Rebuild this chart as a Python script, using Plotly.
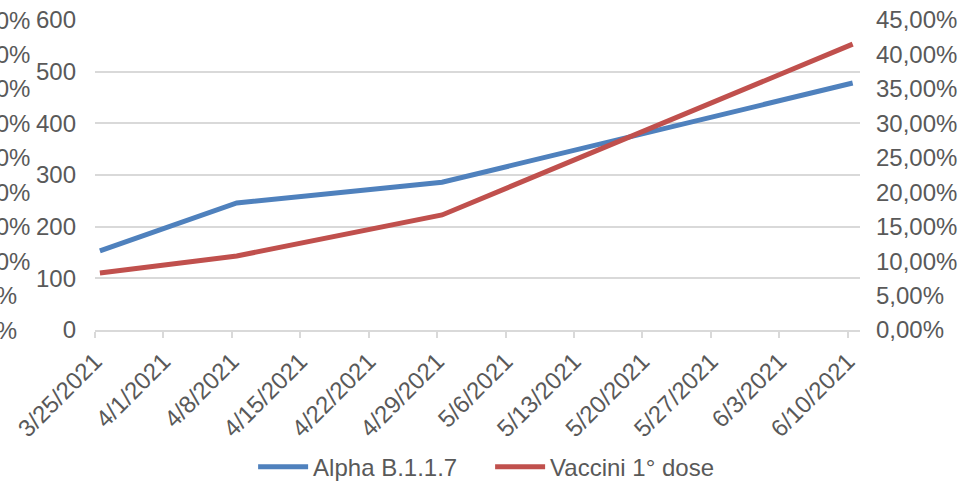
import pandas as pd
import plotly.graph_objects as go

# ---- data ----
alpha_dates = ["2021-03-25", "2021-04-08", "2021-04-29", "2021-06-10"]
alpha_values = [153, 246, 286, 478]

vacc_dates = ["2021-03-25", "2021-04-08", "2021-04-29", "2021-06-10"]
vacc_values = [0.0827, 0.1074, 0.167, 0.415]

week_dates = ["2021-03-25", "2021-04-01", "2021-04-08", "2021-04-15", "2021-04-22",
              "2021-04-29", "2021-05-06", "2021-05-13", "2021-05-20", "2021-05-27",
              "2021-06-03", "2021-06-10"]
week_labels = ["3/25/2021", "4/1/2021", "4/8/2021", "4/15/2021", "4/22/2021",
               "4/29/2021", "5/6/2021", "5/13/2021", "5/20/2021", "5/27/2021",
               "6/3/2021", "6/10/2021"]

left_ticks = [0, 100, 200, 300, 400, 500, 600]
pct_ticks = [0, 0.05, 0.10, 0.15, 0.20, 0.25, 0.30, 0.35, 0.40, 0.45]
pct_labels = ["0,00%", "5,00%", "10,00%", "15,00%", "20,00%", "25,00%",
              "30,00%", "35,00%", "40,00%", "45,00%"]

# ---- style ----
FONT = "Liberation Sans, Arial, sans-serif"
TXT = "#595959"
GRID = "#D9D9D9"
BLUE = "#4F81BD"
RED = "#C0504D"

# Excel-style: tick marks at day boundaries (half day before each point)
tickvals = (pd.to_datetime(week_dates) - pd.Timedelta(hours=12)).tolist()

fig = go.Figure()
fig.add_trace(go.Scatter(x=alpha_dates, y=alpha_values, name="Alpha B.1.1.7",
                         mode="lines", line=dict(color=BLUE, width=5),
                         yaxis="y"))
fig.add_trace(go.Scatter(x=vacc_dates, y=vacc_values, name="Vaccini 1° dose",
                         mode="lines", line=dict(color=RED, width=5),
                         yaxis="y2"))

# clipped percent labels on the far left (as in the reference)
annotations = []
for v, t in zip(pct_ticks, pct_labels):
    annotations.append(dict(xref="paper", x=0, xshift=-148, xanchor="left",
                            yref="y2", y=v, yanchor="middle", text=t,
                            showarrow=False,
                            font=dict(family=FONT, size=24, color=TXT)))

fig.update_layout(
    width=961, height=483,
    margin=dict(l=95, r=101, t=20, b=153, autoexpand=False),
    paper_bgcolor="white", plot_bgcolor="white",
    font=dict(family=FONT, size=24, color=TXT),
    showlegend=True,
    legend=dict(orientation="h", xref="container", yref="container",
                x=0.51, xanchor="center", y=0.033, yanchor="middle",
                font=dict(family=FONT, size=24, color=TXT),
                itemwidth=50, tracegroupgap=0,
                entrywidth=172, entrywidthmode="pixels"),
    xaxis=dict(type="date", automargin=False,
               range=["2021-03-24 12:00", "2021-06-10 18:00"],
               tickmode="array", tickvals=tickvals, ticktext=week_labels,
               tickangle=-45, tickfont=dict(family=FONT, size=24, color=TXT),
               showgrid=False, zeroline=False,
               showline=True, linecolor=GRID, linewidth=1.5,
               ticks="outside", ticklen=6, tickcolor=GRID, tickwidth=1.5,
               ticklabeloverflow="allow"),
    yaxis=dict(range=[0, 600], tickmode="array", tickvals=left_ticks,
               automargin=False,
               showgrid=True, gridcolor=GRID, gridwidth=1.5,
               zeroline=False, showline=False, ticks="",
               ticklabelstandoff=18, ticklabeloverflow="allow",
               tickfont=dict(family=FONT, size=24, color=TXT)),
    yaxis2=dict(range=[0, 0.45], overlaying="y", side="right",
                automargin=False,
                tickmode="array", tickvals=pct_ticks, ticktext=pct_labels,
                showgrid=False, zeroline=False, showline=False, ticks="",
                ticklabelstandoff=15, ticklabeloverflow="allow",
                tickfont=dict(family=FONT, size=24, color=TXT)),
    annotations=annotations,
)

fig.write_html("out.html",
               config={"displayModeBar": False},
               post_script="document.body.style.margin='0';")
